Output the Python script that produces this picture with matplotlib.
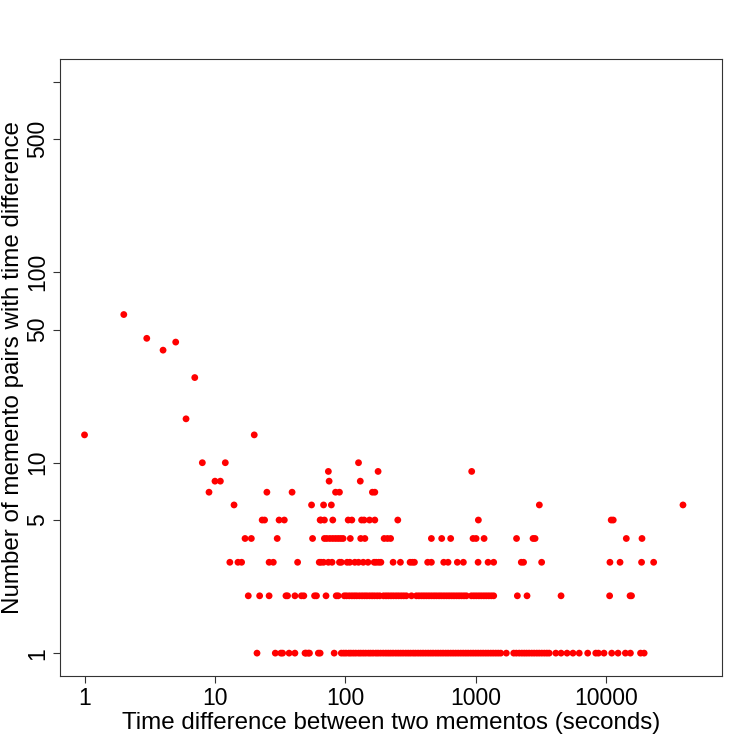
import matplotlib
matplotlib.use("Agg")
import matplotlib.pyplot as plt
import numpy as np

plt.rcParams['font.family'] = ['Liberation Sans', 'DejaVu Sans']

secs_1 = [21, 29, 32, 33, 37, 41, 49, 50, 52, 53, 62, 64, 82,
          93, 97, 101, 106, 110, 115, 120, 126, 131, 137, 143, 150, 156,
          163, 171, 178, 186, 195, 204, 213, 222, 232, 243, 254, 265, 277,
          290, 303, 316, 331, 345, 361, 377, 394, 412, 431, 450, 470, 492,
          514, 537, 561, 587, 613, 641, 670, 700, 732, 765, 800, 836, 873,
          913, 954, 997, 1042, 1089, 1138, 1190, 1243, 1300, 1358, 1420,
          1484, 1550, 1712, 1950, 2043, 2150, 2250, 2350, 2450, 2560, 2680,
          2800, 2930, 3060, 3200, 3350, 3500, 3650, 4100, 4500, 5000, 5550,
          6200, 7200, 8300, 8700, 9600, 11000, 12300, 14000, 15300, 18300,
          19500]
secs_2 = [18, 22, 26, 35, 36, 41, 46, 48, 58, 60, 71, 85, 88,
          98, 102, 107, 112, 117, 122, 128, 134, 140, 146, 153, 160, 167,
          175, 183, 196, 205, 214, 224, 234, 245, 256, 268, 280, 293, 321,
          350, 366, 383, 400, 418, 437, 457, 478, 499, 522, 545, 570, 596,
          623, 651, 680, 711, 743, 776, 811, 846, 924, 966, 1009, 1055,
          1102, 1152, 1203, 1257, 1314, 1370, 2080, 2467, 4498, 10600,
          15200, 15600]
secs_3 = [13, 15, 16, 26, 28, 43, 63, 65, 68, 74, 79, 90, 93, 103, 108,
          118, 126, 137, 149, 166, 172, 180, 187, 232, 264, 313, 326, 338,
          427, 456, 567, 612, 721, 802, 1040, 1240, 1369, 2230, 2320, 3193,
          10660, 12740, 18630, 23060]
secs_4 = [17, 19, 30, 56, 69, 72, 76, 80, 84, 88, 92, 96, 109, 131, 141,
          198, 210, 222, 456, 547, 641, 951, 1004, 1156, 2050, 2743, 2843,
          14230, 18770]
secs_5 = [23, 24, 31, 34, 64, 65, 69, 80, 105, 112, 133, 139, 153, 168,
          252, 1045, 10900, 11300]
secs_6 = [14, 55, 68, 78, 3066, 38700]
secs_7 = [9, 25, 39, 84, 90, 161, 168]
secs_8 = [10, 11, 75, 130]
secs_9 = [74, 178, 929]
secs_10 = [8, 12, 126]

# the few larger counts
big_secs = [1, 20, 6, 7, 4, 5, 3, 2]
big_counts = [14, 14, 17, 28, 39, 43, 45, 60]

groups = [secs_1, secs_2, secs_3, secs_4, secs_5,
          secs_6, secs_7, secs_8, secs_9, secs_10]
x = []
y = []
for n, g in enumerate(groups, start=1):
    x += g
    y += [n] * len(g)
x += big_secs
y += big_counts

fig = plt.figure(figsize=(7.5, 7.5), dpi=100)
ax = fig.add_axes([0.08, 0.0987, 0.8827, 0.8226])

ax.scatter(x, y, s=24, color='#ff0000', edgecolors='none', zorder=3)

ax.set_xscale('log')
ax.set_yscale('log')
ax.set_xlim(10 ** -0.188, 10 ** 4.887)
ax.set_ylim(10 ** -0.12, 10 ** 3.12)

ax.set_xticks([1, 10, 100, 1000, 10000])
ax.set_xticklabels(['1', '10', '100', '1000', '10000'])
ax.set_yticks([1, 5, 10, 50, 100, 500, 1000])
ax.set_yticklabels(['1', '5', '10', '50', '100', '500', ''], rotation=90,
                   va='center')
ax.minorticks_off()

ax.tick_params(axis='both', which='major', labelsize=16.5, length=5,
               width=0.8, pad=3, color='#333333')
for sp in ax.spines.values():
    sp.set_linewidth(0.8)
    sp.set_color('#333333')

ax.set_xlabel('Time difference between two mementos (seconds)', fontsize=17.4)
ax.set_ylabel('Number of memento pairs with time difference', fontsize=17.4)
ax.xaxis.set_label_coords(0.5, -0.058)
ax.yaxis.set_label_coords(-0.055, 0.5)

fig.savefig('out.png', dpi=100, facecolor='white')
